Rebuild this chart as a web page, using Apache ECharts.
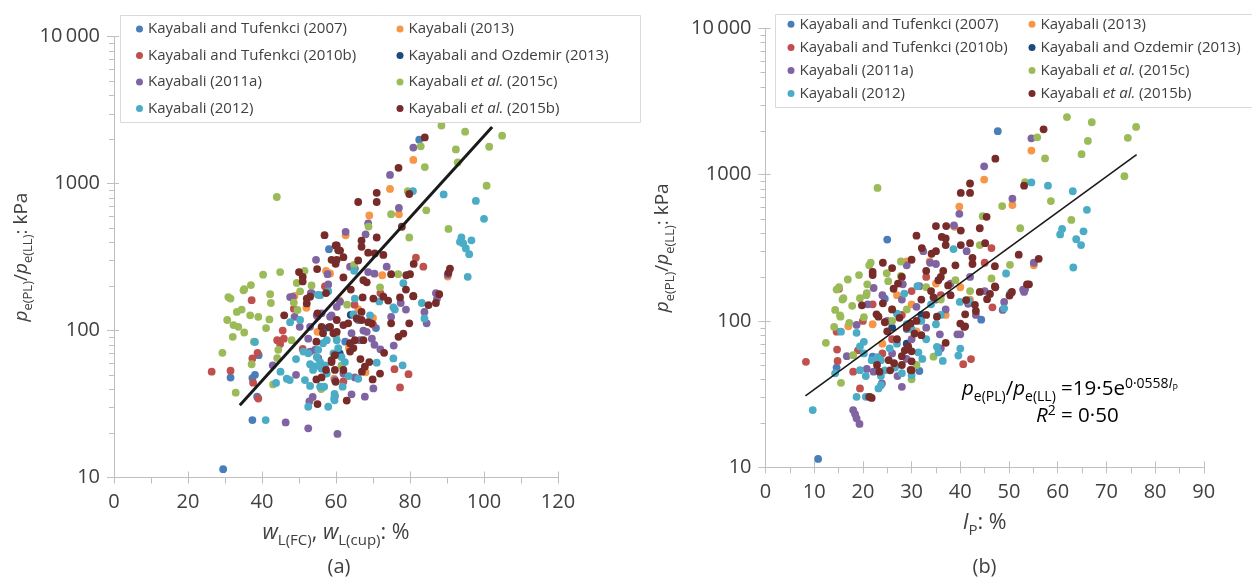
<!DOCTYPE html>
<html><head><meta charset="utf-8">
<script src="https://cdn.jsdelivr.net/npm/echarts@6/dist/echarts.min.js"></script>
<style>html,body{margin:0;padding:0;background:#fff}#c{width:1252px;height:577px}</style>
</head><body><div id="c"></div>
<script>
// ---------- names & colours (draw order) ----------
const seriesNames = ['Kayabali and Tufenkci (2007)','Kayabali (2013)','Kayabali and Tufenkci (2010b)','Kayabali and Ozdemir (2013)','Kayabali (2011a)','Kayabali et al. (2015c)','Kayabali (2012)','Kayabali et al. (2015b)'];
const seriesColors = ['#4a7ebb','#f79646','#c0504d','#1f497d','#8064a2','#9bbb59','#4bacc6','#772c2a'];
const legendCol1 = ['Kayabali and Tufenkci (2007)','Kayabali and Tufenkci (2010b)','Kayabali (2011a)','Kayabali (2012)'];
const legendCol2 = ['Kayabali (2013)','Kayabali and Ozdemir (2013)','Kayabali et al. (2015c)','Kayabali et al. (2015b)'];
const yTickLabels = ['10','100','1000','10\u2009000'];
const yMinorTicks = [20,30,40,50,60,70,80,90,200,300,400,500,600,700,800,900,2000,3000,4000,5000,6000,7000,8000,9000];

// ---------- panel (a): wL vs pe ratio ----------
const A_2007 = [[29.5,11.4],[37.4,24.6],[31.5,47.9],[38.1,50],[37.4,47.5],[39.1,68],[38.7,35.5],[58.1,358],[70.8,104],[82.5,1992],[62.5,84],[66,118]];
const A_2013 = [[80.9,1450],[74.6,921],[77,620],[69,607],[62.6,445],[57.3,255],[58.4,245],[57.7,190],[90.2,233],[59.5,47],[72.5,238],[61,160],[66,140],[70,122],[55,98],[63.5,76],[52,143],[68,52],[48.8,172]];
const A_2010b = [[26.4,52.5],[31.5,53.3],[37.6,44.2],[39,34.5],[37.4,64.6],[38.8,70.6],[37.2,161],[45.6,100],[44.1,86],[44.9,81],[45.9,88],[48.3,169],[48.6,141],[81.6,313],[83.6,272],[77.3,41],[79.6,50.5],[75.8,54.6],[51,75],[57,200],[65,150],[70,110],[62,45],[72,180],[55,125],[60,95]];
const A_Oz = [[58,105],[64,128],[61,70]];
const A_2011a = [[46.4,23.7],[52.5,21.6],[60.4,19.8],[53.7,35.3],[52.8,33],[59.7,35.8],[64.2,36.8],[67.8,35.5],[70.1,40.4],[42.9,58],[49.2,50],[48.2,169],[48.8,124],[50.2,106],[54.6,303],[57.7,242],[57.9,206],[53.2,180],[47.6,169],[74.6,1147],[80.9,1760],[77,683],[68.7,536],[68,452],[62.6,470],[90.2,240],[87.3,165],[65.1,264],[63.8,272],[68.7,250],[70.4,244],[73.7,272],[72,74.5],[75.6,79],[70.4,80],[69.7,88],[78.9,139],[77.5,154],[74.9,124],[83.9,134],[84.5,112],[53,72],[54.3,74],[55.2,65],[52.5,88],[53,106],[53.4,180],[54.8,127],[56.1,131],[58.4,124],[60.2,145],[58.8,127],[61.1,157],[64.2,96],[67.4,100],[68.3,98],[66.5,86],[65.1,48],[62,51],[59.7,46],[87,180]];
const A_2015c = [[88.5,2486],[94.9,2259],[92.4,1709],[101.4,1783],[104.9,2120],[92.9,1393],[100.7,967],[84,1296],[82.9,1793],[79.4,889],[74.9,620],[84.4,658],[68.8,510],[90.4,492],[79.8,430],[71.9,197],[76.8,242],[64.9,280],[44,811],[30.9,169],[31.5,165],[33.2,134],[34.5,139],[30.6,118],[32.3,109],[33.6,106],[35.2,97],[36.8,127],[39,124],[41.1,104],[42,119],[42.2,177],[42.4,154],[35,188],[32.1,90.6],[29.3,70.6],[32.9,37.8],[37.2,59],[37.8,84],[44.4,74],[44.1,65],[43,43],[48,86],[49.6,138],[48.6,155],[56,40],[37,204],[35.2,191],[40.3,240],[44.9,250],[51.5,255],[49.4,211],[53.4,203],[50.3,185],[60,92],[63,150],[61.5,58]];
const A_2012 = [[41,24.6],[38.1,83.6],[43.8,44],[45,52.5],[46.7,47],[49.2,64],[47.6,114],[50.3,118],[52.5,30.3],[57.9,30.3],[59.6,33.5],[59.6,37],[51.6,46],[53,42],[55.7,41.5],[56.8,41.5],[61.8,41.5],[59.5,34.5],[63.4,49],[66,47],[71,60.5],[75.5,64.6],[78,58],[75.9,139],[83.2,154],[83.9,121],[80.8,890],[89.1,845],[97.8,763],[100,576],[93.9,430],[93.5,402],[94.4,392],[95.1,362],[96,331],[96.6,411],[95.6,232],[78.2,210],[64.9,255],[55.1,175],[57.9,185],[53,59],[54.3,57],[55.7,61],[54.8,66],[56.1,55],[57,58],[57.5,51],[53.8,54],[52.5,70],[51.2,72],[55.2,74],[56.5,82],[57.5,86],[60.2,86],[60.6,76],[55.7,174],[59.3,70],[61.5,66],[62.4,61],[64.7,129],[65.1,165],[69.2,127],[71.7,158],[75.5,144],[47.5,46]];
const A_2015b = [[84,2063],[76.9,1282],[79.8,850],[71,866],[71,750],[66,750],[77.8,509],[71,430],[66.9,410],[66.9,372],[60.2,380],[61.1,350],[56.9,446],[59.9,380],[60.6,352],[54.9,262],[58.8,303],[59.9,285],[50,250],[51,232],[51,216],[53,170],[57.3,180],[46,127],[55,31.6],[62.9,33.4],[69.9,46.5],[71.9,51],[59.9,44.8],[67,52.5],[67.8,56.8],[66.6,64],[69,61],[73,70.6],[76.9,90.6],[78.2,95.4],[79.8,112],[74.9,112],[80.9,171],[85,149],[87,154],[87.9,177],[90.8,264],[90.4,247],[81,284],[79,238],[80,242],[74.9,242],[72.8,327],[70.5,335],[68.7,339],[78.9,190],[80.9,172],[60.2,303],[62,316],[67.4,220],[68.3,213],[52.1,165],[52.1,153],[55,131],[56.1,106],[54.7,84],[56.5,96],[58.4,106],[59.3,96],[60.2,118],[58.8,61],[59.7,68],[54.7,46.5],[56.1,48],[57.3,54],[60.2,98],[62,109],[63.3,112],[65.6,121],[66.9,134],[66.9,118],[68.7,114],[69.6,112],[63.8,82],[64.7,76],[58.8,63],[59.7,54],[62,54],[65.1,86],[67.4,86],[63.8,72],[67.2,168],[70.1,165],[72.8,170],[74.1,160],[77.3,168],[64,190],[62,230],[66,300]];
const A_trend = [[34,31],[102.2,2430]];

// ---------- panel (b): Ip vs pe ratio ----------
const B_2007 = [[10.8,11.4],[14.6,48],[25,360],[24.5,142],[31.6,45.5],[44.3,102],[47.7,1980],[22,57],[29,88]];
const B_2013 = [[54.6,1460],[44.9,925],[50.7,620],[39.8,605],[38.8,440],[29,255],[55.1,240],[33.7,255],[27,150],[22,95],[30,130],[37,110],[24,70],[31,85],[40,170],[26,120],[17,92],[35,180],[42,140]];
const B_2010b = [[8.3,52.6],[14.7,63.8],[14.8,53.3],[14.6,84.5],[15.1,166],[18,45],[19.4,34.6],[40.6,50.7],[42.2,54.9],[46.4,315],[46.6,124],[22,130],[26,75],[30,160],[33,200],[20,100],[24,60],[36,150],[28,110],[19,63],[45,250]];
const B_Oz = [[26,90],[32,110],[29,70]];
const B_2011a = [[18,24.6],[18.4,23.1],[18.7,21.6],[19.3,19.8],[16.7,57.5],[18.7,94],[20.8,47],[22.2,45],[23.9,37.4],[28,35.5],[27.1,42],[22.2,168],[28.2,178],[31.6,173],[29,240],[32.4,300],[33.8,250],[35,245],[38.7,450],[39.8,540],[44.9,1140],[54.6,1770],[50.7,685],[41.3,300],[55.1,250],[53.3,165],[52.9,164],[48.7,119],[43.2,110],[41.6,131],[40,81],[39.4,81],[35.8,81],[49,135],[53.1,158],[26,60],[30,75],[25,100],[33,90],[35,140],[37,120],[31,125],[28,140],[24,150],[21,130],[38,180],[42,200],[45,160],[29,55],[36,65]];
const B_2015c = [[61.9,2472],[67,2280],[76.1,2120],[74.4,1785],[66.2,1700],[64.9,1380],[57.4,1290],[55.8,1800],[53.3,890],[58.6,660],[48.6,610],[44.6,520],[62.8,490],[52.3,430],[44,330],[50.2,242],[46.4,195],[73.7,975],[23,811],[27.8,255],[27.8,203],[21.6,250],[21.3,240],[24.9,212],[19.2,206],[16.9,192],[25.2,187],[20.9,178],[20.8,155],[15.1,170],[14.6,164],[16,143],[12.4,70.9],[15.5,37.8],[14.3,119],[15.3,109],[15.4,107],[15.8,140],[17.8,127],[14.1,91],[17.2,97],[18,58.4],[19.4,143],[20.2,106],[20.7,150],[30,39.9],[31,50],[34.5,57],[26,100],[29,120],[36,140],[39,190],[42,160],[33,170]];
const B_2012 = [[9.7,24.6],[14.3,43.9],[15.5,84.5],[18.7,83],[19.4,46.1],[20.6,42],[20.6,30.3],[21.5,30.3],[18.7,30.3],[23.2,34.6],[23.7,36.4],[30,42.6],[20.2,60],[19.4,67],[20.2,72],[21.8,54],[23,56.5],[23.7,54],[24.5,46],[23.7,42],[26.6,48],[28,44],[25.5,65],[27,70],[31.4,61],[32.2,55],[36.4,53.3],[39.6,58],[40,64.8],[35.2,66.6],[35.5,61],[35,95],[36,110],[39.9,135],[41.8,137],[49,122],[50.2,154],[50.5,156],[49.4,211],[28.5,154],[31.2,173],[54.6,885],[58,840],[63.1,770],[66,575],[60.9,425],[60.5,390],[65.3,410],[63.8,362],[64.8,330],[63.2,232],[38.6,310],[32,100],[30,88],[27,112],[29,95],[33,75],[34,130]];
const B_2015b = [[57.1,2040],[47.2,1285],[53.1,840],[42,870],[42,750],[40.1,750],[45.4,515],[44,430],[35,445],[37.1,445],[40.1,415],[36.2,375],[37,366],[37,330],[40.1,330],[42,340],[45.1,340],[42.5,270],[42.5,245],[52,284],[56.1,266],[47.1,237],[54.1,178],[47.1,172],[44,158],[31,383],[32.1,315],[34.1,288],[35,300],[30,262],[24.1,250],[26,230],[22,216],[22,206],[27.2,180],[26.3,166],[21.8,29.8],[21.3,30.3],[22.9,50],[23.4,45],[25.6,46],[28,50],[28,57.5],[28.6,63],[26.4,51.4],[25.3,54],[29.3,67],[30,62],[30,46],[30,53],[24.1,132],[22.8,111],[23.2,107],[24.5,98],[26,120],[27.5,105],[29,90],[31,100],[33,110],[35.2,107],[37,70.9],[41,91.9],[40,96],[41,111],[43.2,117],[41.2,139],[43,129],[46.1,153],[50.1,149],[50.6,158],[53.7,178],[47.2,170],[45.5,141],[40.8,91],[30.6,82],[29.8,96],[29.8,46.3],[19.8,128],[32,140],[34,160],[38,150],[36,200],[39,240],[33,220],[28,200],[25,85],[27,75],[32,80],[35.5,190],[36.5,220],[37.5,175],[34.5,145]];
const B_trend = [[8.2,30.8],[76.2,1369]];

const dataA = [A_2007,A_2013,A_2010b,A_Oz,A_2011a,A_2015c,A_2012,A_2015b];
const dataB = [B_2007,B_2013,B_2010b,B_Oz,B_2011a,B_2015c,B_2012,B_2015b];

// ---------- styling ----------
const FONT = 'Open Sans';
const TXT = '#404040';
const AX = '#bfbfbf';
const yRich = {
  i: {fontFamily: FONT, fontSize: 19, fontStyle: 'italic', color: TXT, lineHeight: 23},
  n: {fontFamily: FONT, fontSize: 19, color: TXT, lineHeight: 23},
  s: {fontFamily: FONT, fontSize: 13, color: TXT, lineHeight: 13, verticalAlign: 'top', padding: [12,0,0,0]}
};
const xRich = {
  i: {fontFamily: FONT, fontSize: 21.5, fontStyle: 'italic', color: TXT, lineHeight: 25},
  n: {fontFamily: FONT, fontSize: 21.5, color: TXT, lineHeight: 25},
  s: {fontFamily: FONT, fontSize: 15, color: TXT, lineHeight: 15, verticalAlign: 'top', padding: [13,0,0,0]}
};

function scatterSeries(data, gi) {
  return data.map((d, k) => ({
    type: 'scatter', name: seriesNames[k], xAxisIndex: gi*2, yAxisIndex: gi*2,
    data: d, symbol: 'circle', symbolSize: 7.8,
    itemStyle: {color: seriesColors[k], opacity: 1},
    emphasis: {disabled: true}, silent: true, z: 2
  }));
}
function minorTickSeries(gi) {
  return {
    type: 'custom', xAxisIndex: gi*2, yAxisIndex: gi*2, silent: true, z: 3,
    data: yMinorTicks.map(v => [0, v]),
    renderItem: (params, api) => {
      const p = api.coord([api.value(0), api.value(1)]);
      return {type: 'line', shape: {x1: p[0]-5, y1: Math.round(p[1])+0.5, x2: p[0], y2: Math.round(p[1])+0.5},
              style: {stroke: AX, lineWidth: 1}};
    }
  };
}
function trendSeries(d, gi, w) {
  return {type: 'line', xAxisIndex: gi*2, yAxisIndex: gi*2, data: d, showSymbol: false,
          lineStyle: {color: '#1a1a1a', width: w}, silent: true, z: 3};
}
function xAxes(gi, max, interval, name) {
  return [
    {gridIndex: gi, type: 'value', min: 0, max: max, interval: interval,
     axisLine: {lineStyle: {color: AX, width: 1}},
     axisTick: {length: 6, lineStyle: {color: AX}},
     minorTick: {show: true, splitNumber: 2, length: 6, lineStyle: {color: AX}},
     splitLine: {show: false}, minorSplitLine: {show: false},
     axisLabel: {fontFamily: FONT, fontSize: 20, color: TXT, margin: 15},
     name: name, nameLocation: 'middle', nameGap: 43,
     nameTextStyle: {rich: xRich}},
    {gridIndex: gi, type: 'value', min: 0, max: max, interval: interval, position: 'bottom',
     axisLine: {show: false}, axisTick: {show: true, inside: true, length: 6, lineStyle: {color: AX}},
     axisLabel: {show: false}, splitLine: {show: false}}
  ];
}
function yAxes(gi, gap, name) {
  return [
    {gridIndex: gi, type: 'log', logBase: 10, min: 10, max: 10000, position: 'left',
     axisLine: {show: true, lineStyle: {color: AX, width: 1}},
     axisTick: {show: true, length: 7, lineStyle: {color: AX}},
     splitLine: {show: false},
     axisLabel: {fontFamily: FONT, fontSize: 20, color: TXT, margin: 14,
                 formatter: v => yTickLabels[Math.round(Math.log10(v)) - 1]},
     name: name, nameLocation: 'middle', nameRotate: 90, nameGap: gap,
     nameTextStyle: {rich: yRich}},
    {gridIndex: gi, type: 'log', logBase: 10, min: 10, max: 10000, position: 'left',
     axisLine: {show: false}, axisTick: {show: true, inside: true, length: 5, lineStyle: {color: AX}},
     axisLabel: {show: false}, splitLine: {show: false}}
  ];
}
const legendRich = {
  n: {fontFamily: FONT, fontSize: 15, color: TXT, lineHeight: 17},
  i: {fontFamily: FONT, fontSize: 15, color: TXT, lineHeight: 17, fontStyle: 'italic'}
};
function legendFmt(name) {
  if (name.indexOf('et al.') >= 0) {
    const parts = name.split('et al.');
    return '{n|' + parts[0] + '}{i|et al.}{n|' + parts[1] + '}';
  }
  return '{n|' + name + '}';
}
function legend(names, left, top, gap) {
  return {data: names, orient: 'vertical', left: left, top: top, itemGap: gap, padding: 0,
          itemWidth: 7, itemHeight: 7, selectedMode: false, z: 5,
          formatter: legendFmt, textStyle: {fontFamily: FONT, fontSize: 15, color: TXT, lineHeight: 17, rich: legendRich}};
}

const yName = '{i|p}{s|e(PL)}{n|/}{i|p}{s|e(LL)}{n|: kPa}';
const eqRich = {
  i: {fontFamily: FONT, fontSize: 20.5, fontStyle: 'italic', color: TXT, lineHeight: 24},
  n: {fontFamily: FONT, fontSize: 20.5, color: TXT, lineHeight: 24},
  s: {fontFamily: FONT, fontSize: 14, color: TXT, lineHeight: 14, verticalAlign: 'top', padding: [13,0,0,0]},
  sup: {fontFamily: FONT, fontSize: 14, color: TXT, lineHeight: 14, verticalAlign: 'top'},
  supi: {fontFamily: FONT, fontSize: 14, fontStyle: 'italic', color: TXT, lineHeight: 14, verticalAlign: 'top'},
  supsub: {fontFamily: FONT, fontSize: 9, color: TXT, lineHeight: 9, verticalAlign: 'top', padding: [7,0,0,0]}
};

const option = {
  animation: false,
  backgroundColor: '#fff',
  grid: [
    {left: 114, top: 36.7, width: 444, height: 440.8},
    {left: 765.5, top: 28.3, width: 438.3, height: 439}
  ],
  xAxis: [].concat(
    xAxes(0, 120, 20, '{i|w}{s|L(FC)}{n|, }{i|w}{s|L(cup)}{n|: %}'),
    xAxes(1, 90, 10, '{i|I}{s|P}{n|: %}')
  ),
  yAxis: [].concat(yAxes(0, 81, yName), yAxes(1, 91, yName)),
  legend: [
    legend(legendCol1, 136, 20.5, 9.5),
    legend(legendCol2, 396.5, 20.5, 9.5),
    legend(legendCol1, 787.5, 15.8, 6.1),
    legend(legendCol2, 1028.5, 15.8, 6.1)
  ],
  graphic: [
    {type: 'rect', z: 4, shape: {x: 120.5, y: 15.5, width: 520, height: 107}, style: {fill: '#fff', stroke: '#d9d9d9', lineWidth: 1}},
    {type: 'rect', z: 4, shape: {x: 775.5, y: 14.5, width: 480, height: 93}, style: {fill: '#fff', stroke: '#d9d9d9', lineWidth: 1}},
    {type: 'text', z: 6, x: 339, y: 567, style: {text: '(a)', fontFamily: FONT, fontSize: 20, fill: TXT, align: 'center', verticalAlign: 'middle'}},
    {type: 'text', z: 6, x: 984.5, y: 567, style: {text: '(b)', fontFamily: FONT, fontSize: 20, fill: TXT, align: 'center', verticalAlign: 'middle'}},
    {type: 'text', z: 6, x: 962, y: 389, style: {text: '{i|p}{s|e(PL)}{n|/}{i|p}{s|e(LL)}{n| =19·5e}{sup|0·0558}{supi|I}{supsub|P}', rich: eqRich, align: 'left', verticalAlign: 'middle'}},
    {type: 'text', z: 6, x: 1036, y: 416, style: {text: '{i|R}{sup|2}{n| = 0·50}', rich: eqRich, align: 'left', verticalAlign: 'middle'}}
  ],
  series: [].concat(
    scatterSeries(dataA, 0), [minorTickSeries(0), trendSeries(A_trend, 0, 3)],
    scatterSeries(dataB, 1), [minorTickSeries(1), trendSeries(B_trend, 1, 1.6)]
  )
};
const chart = echarts.init(document.getElementById('c'), null, {renderer: 'canvas'});
chart.setOption(option);
</script></body></html>
